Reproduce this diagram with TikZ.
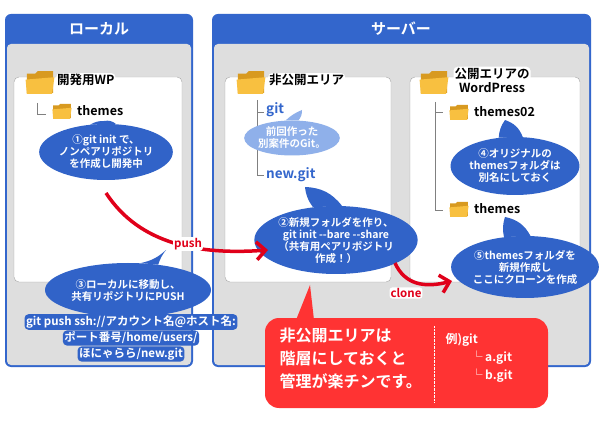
\documentclass[tikz,border=0pt]{standalone}
\usepackage{fontspec}
\setmainfont{Noto Sans CJK JP}[BoldFont={Noto Sans CJK JP Bold}]
\newfontfamily\jp{Noto Sans CJK JP Bold}
\usetikzlibrary{shapes.geometric,arrows.meta,calc}
\definecolor{pblue}{HTML}{3366CC}
\definecolor{bub}{HTML}{3163C8}
\definecolor{lbub}{HTML}{8FB0EA}
\definecolor{pgrey}{HTML}{DEDEDE}
\definecolor{fred}{HTML}{FF3333}
\definecolor{arr}{HTML}{E0001A}
\definecolor{fy}{HTML}{F8C040}
\definecolor{fyd}{HTML}{D89A20}
\tikzset{
 bubble/.style={ellipse,fill=bub,text=white,font=\jp\fontsize{10.5}{12}\selectfont,align=center,inner sep=0pt},
 lbubble/.style={ellipse,fill=lbub,text=white,font=\jp\fontsize{10.5}{12}\selectfont,align=center,inner sep=0pt},
 lbl/.style={font=\jp\fontsize{12.5}{14}\selectfont,anchor=west,inner sep=1pt},
 gitlbl/.style={font=\jp\fontsize{13.5}{14}\selectfont,text=pblue,anchor=west,inner sep=1pt},
 panel/.style={fill=pblue,rounded corners=6pt},
 inner/.style={fill=pgrey,rounded corners=4pt},
 wbox/.style={fill=white,draw=gray!70,rounded corners=5pt},
 tree/.style={draw=gray,line width=0.8pt},
 redarr/.style={draw=arr,line width=3.5pt,-{Straight Barb[length=9pt,width=18pt]}},
 arrlbl/.style={font=\jp\fontsize{11.5}{12}\selectfont,text=arr,fill=white,rounded corners=3pt,inner sep=1pt},
 cmd/.style={fill=bub,text=white,rounded corners=4pt,font=\jp\fontsize{11.5}{12}\selectfont,inner sep=1.5pt},
 folder/.pic={
   \fill[fyd] (-11,-7) -- (-11,9) -- (11,9) -- (11,-9) -- (-2,-9) -- (-4,-7) -- cycle;
   \fill[fy] (-12,-2) -- (-11,10) -- (10,10) -- (12,-4) -- cycle;
 }
}
\begin{document}
\begin{tikzpicture}[x=1pt,y=-1pt]
\useasboundingbox[fill=white] (0,0) rectangle (600,422);
% local panel
\fill[panel] (5,14) rectangle (193,367);
\fill[inner] (7,44) rectangle (191,365);
\node[font=\jp\fontsize{15}{16}\selectfont,text=white] (tl) at (99,29) {ローカル};
\draw[wbox] (14,77) rectangle (182,282);
% server panel
\fill[panel] (212,14) rectangle (591,367);
\fill[inner] (214,44) rectangle (589,365);
\node[font=\jp\fontsize{15}{16}\selectfont,text=white] (ts) at (401,29) {サーバー};
\draw[wbox] (225,77) rectangle (391,282);
\draw[wbox] (410,77) rectangle (580,282);

% local folders
\pic[scale=1.2] at (40,82) {folder};
\node[lbl,fill=white,rounded corners=4pt] (wp) at (56,80) {開発用WP};
\draw[tree] (37,103) |- (46,114);
\pic[scale=0.8] at (62,111) {folder};
\node[lbl] (th1) at (76,111) {themes};

\node[bubble,minimum width=88pt,minimum height=56pt] (b1) at (106,152) {①git init で、\\ノンペアリポジトリ\\を作成し開発中};
\fill[bub] (b1.120) to[bend left=15] (104,121) to[bend left=25] (b1.70) -- cycle;

% server private
\pic[scale=1.2] at (251,82) {folder};
\node[lbl,fill=white,rounded corners=4pt] (hk) at (268,80) {非公開エリア};
\draw[tree] (257,100) |- (264,112);
\draw[tree] (257,112) |- (264,175);
\node[gitlbl] (git) at (265,110) {git};
\node[lbubble,minimum width=88pt,minimum height=35pt] (lb) at (292,138) {前回作った\\別案件のGit。};
\fill[lbub] (lb.110) to[bend left=10] (302,110) to[bend left=20] (lb.70) -- cycle;
\node[gitlbl] (ng) at (265,175) {new.git};

\node[bubble,minimum width=124pt,minimum height=68pt] (b2) at (336,240) {②新規フォルダを作り、\\git init --bare --share\\（共有用ペアリポジトリ\\作成！）};
\fill[bub] (b2.125) to[bend left=15] (305,187) to[bend left=25] (b2.80) -- cycle;

% server public
\pic[scale=1.2] at (434,82) {folder};
\node[lbl,fill=white,rounded corners=4pt,align=center,anchor=center] (pw) at (492,80) {公開エリアの\\WordPress};
\draw[tree] (435,102) |- (443,112);
\draw[tree] (435,112) |- (443,210);
\pic[scale=0.8] at (459,112) {folder};
\node[lbl] (t02) at (473,112) {themes02};
\pic[scale=0.8] at (459,209) {folder};
\node[lbl] (t03) at (473,209) {themes};

\node[bubble,minimum width=86pt,minimum height=58pt] (b4) at (515,166) {④オリジナルの\\themesフォルダは\\別名にしておく};
\fill[bub] (b4.120) to[bend left=15] (505,120) to[bend left=25] (b4.75) -- cycle;
\node[bubble,minimum width=124pt,minimum height=62pt] (b5) at (525,267) {⑤themesフォルダを\\新規作成し\\ここにクローンを作成};
\fill[bub] (b5.125) to[bend left=15] (505,217) to[bend left=25] (b5.80) -- cycle;

% bubble 3 and command
\node[bubble,minimum width=166pt,minimum height=54pt] (b3) at (128,290) {③ローカルに移動し、\\共有リポジトリにPUSH};
\fill[bub] (b3.65) to[bend right=15] (166,250) to[bend right=10] (b3.40) -- cycle;
\node[cmd] (c1) at (131,322) {git push ssh://アカウント名@ホスト名:};
\node[cmd] (c2) at (131,338) {ポート番号/home/users/};
\node[cmd] (c3) at (131,354) {ほにゃらら/new.git};

% arrows
\coordinate (ps) at (106,193);
\coordinate (pe) at (268,250);
\draw[redarr] (ps) .. controls (140,245) and (200,255) .. (pe);
\node[arrlbl] (pl) at (188,244) {push};
\coordinate (cs) at (395,263);
\coordinate (ce) at (452,281);
\draw[redarr] (cs) .. controls (405,285) and (425,288) .. (ce);
\node[arrlbl] (cl) at (406,293) {clone};

% red note
\fill[fred,rounded corners=14pt] (265,318) rectangle (548,408);
\fill[fred] (296,320) -- (310,285) -- (314,320) -- cycle;
\draw[white,densely dotted] (434,326) -- (434,402);
\node[font=\jp\fontsize{16}{23}\selectfont,text=white,align=left,anchor=north west] (rn) at (276,324) {非公開エリアは\\階層にしておくと\\管理が楽チンです。};
\node[font=\jp\fontsize{12}{18}\selectfont,text=white,align=left,anchor=north west] (rx) at (442,330) {例)git\\\hspace*{25pt}└ a.git\\\hspace*{25pt}└ b.git};
\end{tikzpicture}
\end{document}
